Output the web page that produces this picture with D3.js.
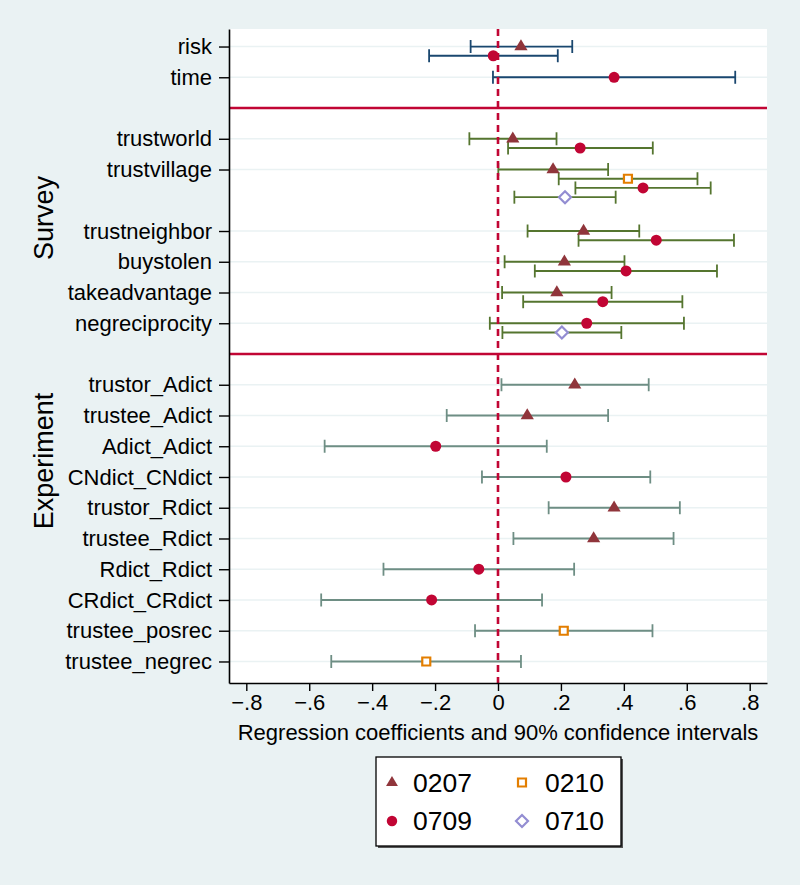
<!DOCTYPE html>
<html lang="en">
<head>
<meta charset="UTF-8">
<script src="https://d3js.org/d3.v7.min.js"></script>
<style>
    body { margin: 0; background: #eaf2f3; }
    svg { display: block; font-family: 'Liberation Sans', Arial, sans-serif; }
</style>
</head>
<body>
<svg id="canvas" width="800" height="885"></svg>
<script>
// rows top to bottom and the slot each one sits on
let variables = ['risk', 'time', 'trustworld', 'trustvillage', 'trustneighbor', 'buystolen',
    'takeadvantage', 'negreciprocity', 'trustor_Adict', 'trustee_Adict', 'Adict_Adict',
    'CNdict_CNdict', 'trustor_Rdict', 'trustee_Rdict', 'Rdict_Rdict', 'CRdict_CRdict',
    'trustee_posrec', 'trustee_negrec']
let slots = [1, 2, 4, 5, 7, 8, 9, 10, 12, 13, 14, 15, 16, 17, 18, 19, 20, 21]
let sections = ['pref', 'pref', 'survey', 'survey', 'survey', 'survey', 'survey', 'survey',
    'experiment', 'experiment', 'experiment', 'experiment', 'experiment', 'experiment',
    'experiment', 'experiment', 'experiment', 'experiment']
let separators = [3, 11]
let groupNames = ['Survey', 'Experiment']

let xTicks = [-0.8, -0.6, -0.4, -0.2, 0, 0.2, 0.4, 0.6, 0.8]
let xTitle = 'Regression coefficients and 90% confidence intervals'

let series = ['0207', '0210', '0709', '0710']

// [variable, coefficient, lower 90%, upper 90%]
let est0207 = [
    ['risk', 0.073, -0.087, 0.236],
    ['trustworld', 0.047, -0.091, 0.186],
    ['trustvillage', 0.175, 0.001, 0.350],
    ['trustneighbor', 0.272, 0.094, 0.449],
    ['buystolen', 0.211, 0.021, 0.402],
    ['takeadvantage', 0.187, 0.013, 0.361],
    ['trustor_Adict', 0.244, 0.011, 0.479],
    ['trustee_Adict', 0.093, -0.163, 0.350],
    ['trustor_Rdict', 0.369, 0.161, 0.578],
    ['trustee_Rdict', 0.304, 0.049, 0.558]
]
let est0210 = [
    ['trustvillage', 0.413, 0.193, 0.634],
    ['trustee_posrec', 0.209, -0.073, 0.491],
    ['trustee_negrec', -0.228, -0.530, 0.073]
]
let est0709 = [
    ['risk', -0.015, -0.219, 0.190],
    ['time', 0.369, -0.016, 0.754],
    ['trustworld', 0.261, 0.032, 0.492],
    ['trustvillage', 0.461, 0.246, 0.676],
    ['trustneighbor', 0.503, 0.256, 0.750],
    ['buystolen', 0.407, 0.117, 0.696],
    ['takeadvantage', 0.333, 0.080, 0.586],
    ['negreciprocity', 0.282, -0.026, 0.591],
    ['Adict_Adict', -0.198, -0.551, 0.155],
    ['CNdict_CNdict', 0.216, -0.051, 0.484],
    ['Rdict_Rdict', -0.061, -0.364, 0.242],
    ['CRdict_CRdict', -0.211, -0.562, 0.140]
]
let est0710 = [
    ['trustvillage', 0.213, 0.052, 0.374],
    ['negreciprocity', 0.203, 0.014, 0.392]
]

let estimates = [est0207, est0210, est0709, est0710]

// look
let ciColor = { pref: '#1a476f', survey: '#55752f', experiment: '#6e8e84' }
let markColor = { '0207': '#90353b', '0210': '#e37e00', '0709': '#c10534', '0710': '#938dd2' }
let markShape = { '0207': 'triangle', '0210': 'square', '0709': 'circle', '0710': 'diamond' }
let red = '#c10534'

let plotLeft = 229, plotRight = 767, plotTop = 29, plotBottom = 683

let canvas = d3.select('#canvas')

let x = d3.scaleLinear().domain([-0.855, 0.855]).range([plotLeft, plotRight])
let y = d3.scaleLinear().domain([0.43, 21.7]).range([plotTop, plotBottom])

let shapePath = (shape) => {
    if (shape === 'triangle') return 'M0,-7.2L6.6,3.8L-6.6,3.8Z'
    if (shape === 'square') return 'M-4,-4H4V4H-4Z'
    if (shape === 'diamond') return 'M0,-6L6,0L0,6L-6,0Z'
    return d3.symbol().type(d3.symbolCircle).size(95)()
}
let isHollow = (shape) => shape === 'square' || shape === 'diamond'

// build the rows: offset within a variable by order of the series present
let points = []
variables.forEach((v, i) => {
    let k = 0
    series.forEach((s, j) => {
        let row = estimates[j].find(d => d[0] === v)
        if (row) {
            points.push({ v: v, s: s, b: row[1], lo: row[2], hi: row[3],
                slot: slots[i] + k * 0.3, section: sections[i] })
            k++
        }
    })
})

// plot region
canvas.append('rect')
    .attr('x', plotLeft).attr('y', plotTop)
    .attr('width', plotRight - plotLeft).attr('height', plotBottom - plotTop)
    .attr('fill', 'white')

canvas.append('g').selectAll('line')
    .data(slots)
    .enter()
    .append('line')
    .attr('x1', plotLeft).attr('x2', plotRight)
    .attr('y1', d => y(d)).attr('y2', d => y(d))
    .attr('stroke', '#eaf2f3')
    .attr('stroke-width', 1.5)

// confidence intervals
let ci = canvas.append('g')
ci.selectAll('line.ci')
    .data(points)
    .enter()
    .append('line')
    .attr('class', 'ci')
    .attr('x1', d => x(d.lo)).attr('x2', d => x(d.hi))
    .attr('y1', d => y(d.slot)).attr('y2', d => y(d.slot))
    .attr('stroke', d => ciColor[d.section])
    .attr('stroke-width', 1.8)
;['lo', 'hi'].forEach(end => {
    ci.selectAll('line.cap' + end)
        .data(points)
        .enter()
        .append('line')
        .attr('class', 'cap' + end)
        .attr('x1', d => x(d[end])).attr('x2', d => x(d[end]))
        .attr('y1', d => y(d.slot) - 6.5).attr('y2', d => y(d.slot) + 6.5)
        .attr('stroke', d => ciColor[d.section])
        .attr('stroke-width', 1.8)
})

// zero line and section separators
canvas.append('line')
    .attr('x1', x(0)).attr('x2', x(0))
    .attr('y1', plotTop).attr('y2', plotBottom)
    .attr('stroke', red)
    .attr('stroke-width', 2.6)
    .attr('stroke-dasharray', '7,5')

canvas.append('g').selectAll('line')
    .data(separators)
    .enter()
    .append('line')
    .attr('x1', plotLeft).attr('x2', plotRight)
    .attr('y1', d => y(d)).attr('y2', d => y(d))
    .attr('stroke', red)
    .attr('stroke-width', 2.4)

// markers
canvas.append('g').selectAll('path')
    .data(points)
    .enter()
    .append('path')
    .attr('transform', d => 'translate(' + x(d.b) + ',' + y(d.slot) + ')')
    .attr('d', d => shapePath(markShape[d.s]))
    .attr('fill', d => isHollow(markShape[d.s]) ? 'white' : markColor[d.s])
    .attr('stroke', d => markColor[d.s])
    .attr('stroke-width', d => isHollow(markShape[d.s]) ? 2.2 : 0)

// axes
let xAxis = d3.axisBottom(x)
    .tickValues(xTicks)
    .tickSize(8)
    .tickSizeOuter(0)
    .tickPadding(3)
    .tickFormat(d => d === 0 ? '0' : d3.format('.1f')(d).replace('0.', '.').replace('-', '\u2212'))

canvas.append('g')
    .attr('transform', 'translate(0,' + plotBottom + ')')
    .call(xAxis)
    .call(g => g.selectAll('text').attr('font-size', 22).attr('fill', 'black'))
    .call(g => g.selectAll('line').attr('stroke', 'black').attr('stroke-width', 1.4))
    .call(g => g.select('.domain').attr('stroke', 'black').attr('stroke-width', 1.6))
    .attr('font-family', null)

let yAxis = d3.axisLeft(y)
    .tickValues(slots)
    .tickSize(10)
    .tickSizeOuter(0)
    .tickPadding(7)
    .tickFormat(d => variables[slots.indexOf(d)])

canvas.append('g')
    .attr('transform', 'translate(' + plotLeft + ',0)')
    .call(yAxis)
    .call(g => g.selectAll('text').attr('font-size', 22).attr('fill', 'black'))
    .call(g => g.selectAll('line').attr('stroke', 'black').attr('stroke-width', 1.4))
    .call(g => g.select('.domain').attr('stroke', 'black').attr('stroke-width', 1.6))
    .attr('font-family', null)

canvas.append('text')
    .attr('x', (plotLeft + plotRight) / 2)
    .attr('y', 740)
    .attr('text-anchor', 'middle')
    .attr('font-size', 22)
    .text(xTitle)

// group titles on the left
let groupSlot = [6.58, 14.48]
canvas.append('g').selectAll('text')
    .data(groupNames)
    .enter()
    .append('text')
    .attr('transform', (d, i) => 'translate(53,' + y(groupSlot[i]) + ') rotate(-90)')
    .attr('text-anchor', 'middle')
    .attr('font-size', 27)
    .text(d => d)

// legend
let legend = canvas.append('g').attr('transform', 'translate(376,757)')
legend.append('rect')
    .attr('x', 2).attr('y', 2).attr('width', 245).attr('height', 89)
    .attr('fill', '#555')
legend.append('rect')
    .attr('width', 245).attr('height', 89)
    .attr('fill', 'white')
    .attr('stroke', 'black')
    .attr('stroke-width', 1.3)

let item = legend.selectAll('g.item')
    .data(series)
    .enter()
    .append('g')
    .attr('class', 'item')
    .attr('transform', (d, i) => 'translate(' + (i % 2 === 0 ? 16 : 146) + ',' + (i < 2 ? 25.5 : 64) + ')')
item.append('path')
    .attr('d', d => shapePath(markShape[d]))
    .attr('transform', d => markShape[d] === 'triangle' ? 'scale(0.9)' : (markShape[d] === 'circle' ? 'scale(0.95)' : null))
    .attr('fill', d => isHollow(markShape[d]) ? 'white' : markColor[d])
    .attr('stroke', d => markColor[d])
    .attr('stroke-width', d => isHollow(markShape[d]) ? 2.2 : 0)
item.append('text')
    .attr('x', (d, i) => i % 2 === 0 ? 21 : 23)
    .attr('dy', '0.35em')
    .attr('font-size', 26.5)
    .text(d => d)
</script>
</body>
</html>
